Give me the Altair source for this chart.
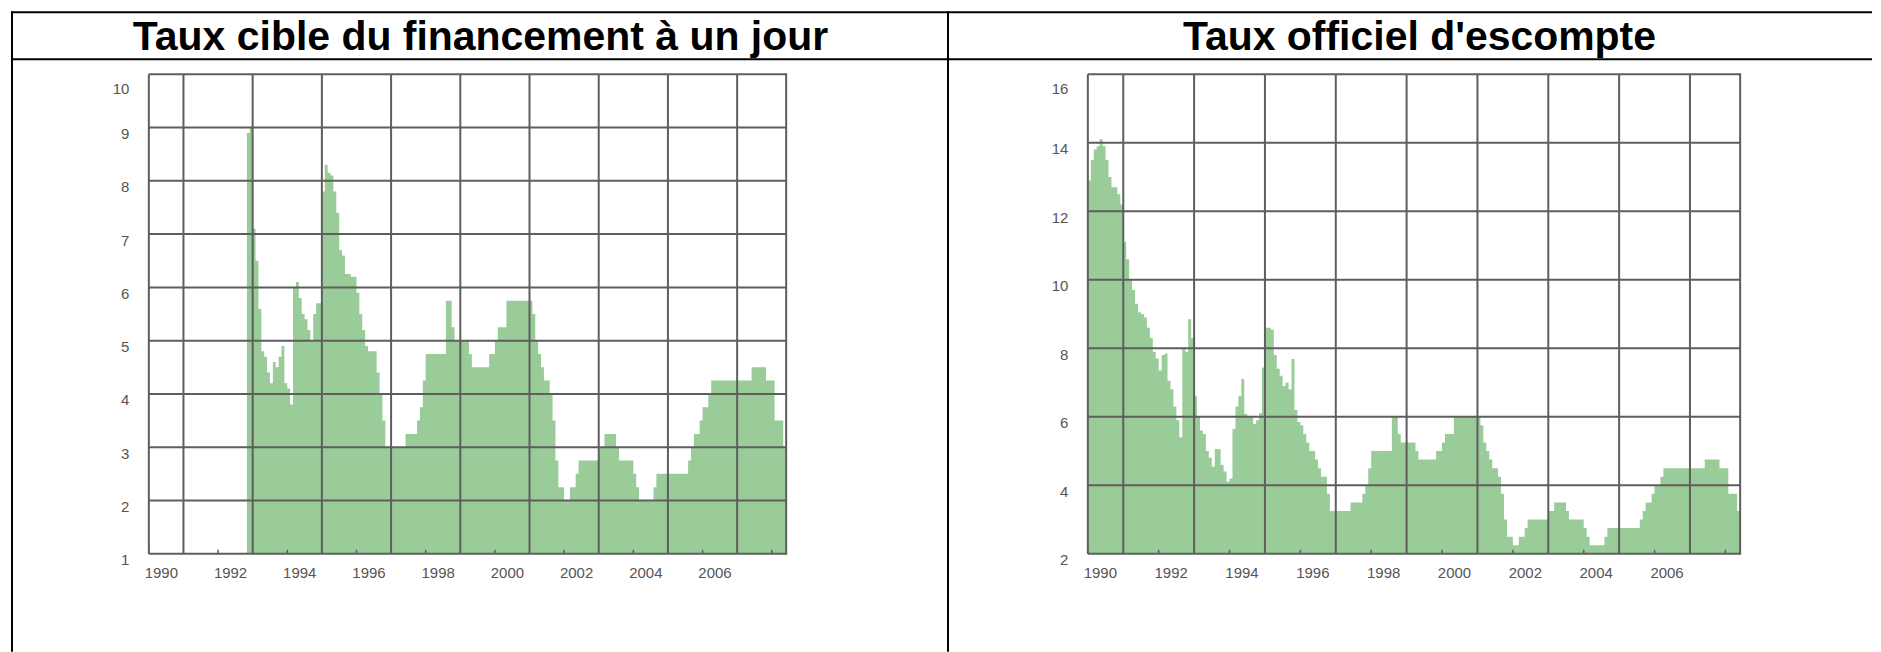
import altair as alt
import pandas as pd

# ---------------- data (monthly) ----------------
END_T = 2008 + 5 / 12  # right edge of the time axis (end of May 2008)

# Taux cible du financement à un jour : Nov 1992 .. May 2008
overnight_start = (1992, 11)
overnight_1992 = [8.9, 9.0]
overnight_1993 = [7.1, 6.5, 5.6, 4.8, 4.7, 4.4, 4.2, 4.6, 4.5, 4.7, 4.9, 4.2]
overnight_1994 = [4.1, 3.8, 6.0, 6.1, 5.8, 5.5, 5.4, 5.2, 5.0, 5.5, 5.7, 5.7]
overnight_1995 = [7.8, 8.3, 8.15, 8.1, 7.8, 7.4, 6.7, 6.6, 6.25, 6.25, 6.2, 6.2]
overnight_1996 = [5.9, 5.5, 5.2, 4.9, 4.8, 4.8, 4.8, 4.4, 4.0, 3.5, 3.0, 3.0]
overnight_1997 = [3.0, 3.0, 3.0, 3.0, 3.0, 3.25, 3.25, 3.25, 3.25, 3.5, 3.75, 4.25]
overnight_1998 = [4.75, 4.75, 4.75, 4.75, 4.75, 4.75, 4.75, 5.75, 5.75, 5.25, 5.0, 5.0]
overnight_1999 = [5.0, 5.0, 5.0, 4.75, 4.5, 4.5, 4.5, 4.5, 4.5, 4.5, 4.75, 4.75]
overnight_2000 = [5.0, 5.25, 5.25, 5.25, 5.75, 5.75, 5.75, 5.75, 5.75, 5.75, 5.75, 5.75]
overnight_2001 = [5.75, 5.5, 5.0, 4.75, 4.5, 4.25, 4.25, 4.0, 3.5, 2.75, 2.25, 2.25]
overnight_2002 = [2.0, 2.0, 2.25, 2.25, 2.5, 2.75, 2.75, 2.75, 2.75, 2.75, 2.75, 2.75]
overnight_2003 = [3.0, 3.0, 3.25, 3.25, 3.25, 3.25, 3.0, 2.75, 2.75, 2.75, 2.75, 2.75]
overnight_2004 = [2.5, 2.25, 2.0, 2.0, 2.0, 2.0, 2.0, 2.25, 2.5, 2.5, 2.5, 2.5]
overnight_2005 = [2.5, 2.5, 2.5, 2.5, 2.5, 2.5, 2.5, 2.75, 3.0, 3.25, 3.25, 3.5]
overnight_2006 = [3.75, 3.75, 4.0, 4.25, 4.25, 4.25, 4.25, 4.25, 4.25, 4.25, 4.25, 4.25]
overnight_2007 = [4.25, 4.25, 4.25, 4.25, 4.25, 4.5, 4.5, 4.5, 4.5, 4.5, 4.25, 4.25]
overnight_2008 = [4.25, 3.5, 3.5, 3.5, 3.0]

# Taux officiel d'escompte : Jan 1990 .. May 2008
bank_start = (1990, 1)
bank_1990 = [12.9, 13.5, 13.8, 13.9, 14.1, 13.9, 13.5, 13.0, 12.7, 12.7, 12.5, 12.2]
bank_1991 = [11.1, 10.6, 10.0, 9.7, 9.3, 9.05, 9.0, 8.9, 8.6, 8.3, 7.9, 7.7]
bank_1992 = [7.35, 7.8, 7.85, 7.05, 6.8, 6.3, 5.9, 5.4, 8.0, 7.9, 8.85, 8.3]
bank_1993 = [6.6, 6.0, 5.6, 5.5, 5.0, 4.8, 4.55, 5.06, 5.05, 4.6, 4.4, 4.1]
bank_1994 = [4.2, 5.64, 6.3, 6.6, 7.1, 6.08, 6.0, 6.0, 5.79, 5.9, 6.1, 7.44]
bank_1995 = [8.6, 8.6, 8.55, 7.8, 7.4, 7.2, 6.9, 7.0, 6.8, 7.69, 6.2, 5.85]
bank_1996 = [5.75, 5.5, 5.25, 5.0, 5.0, 4.75, 4.5, 4.25, 4.25, 3.75, 3.25, 3.25]
bank_1997 = [3.25, 3.25, 3.25, 3.25, 3.25, 3.5, 3.5, 3.5, 3.5, 3.75, 4.0, 4.5]
bank_1998 = [5.0, 5.0, 5.0, 5.0, 5.0, 5.0, 5.0, 6.0, 6.0, 5.5, 5.25, 5.25]
bank_1999 = [5.25, 5.25, 5.25, 5.0, 4.75, 4.75, 4.75, 4.75, 4.75, 4.75, 5.0, 5.0]
bank_2000 = [5.25, 5.5, 5.5, 5.5, 6.0, 6.0, 6.0, 6.0, 6.0, 6.0, 6.0, 6.0]
bank_2001 = [6.0, 5.75, 5.25, 5.0, 4.75, 4.5, 4.5, 4.25, 3.75, 3.0, 2.5, 2.5]
bank_2002 = [2.25, 2.25, 2.5, 2.5, 2.75, 3.0, 3.0, 3.0, 3.0, 3.0, 3.0, 3.0]
bank_2003 = [3.25, 3.25, 3.5, 3.5, 3.5, 3.5, 3.25, 3.0, 3.0, 3.0, 3.0, 3.0]
bank_2004 = [2.75, 2.5, 2.25, 2.25, 2.25, 2.25, 2.25, 2.5, 2.75, 2.75, 2.75, 2.75]
bank_2005 = [2.75, 2.75, 2.75, 2.75, 2.75, 2.75, 2.75, 3.0, 3.25, 3.5, 3.5, 3.75]
bank_2006 = [4.0, 4.0, 4.25, 4.5, 4.5, 4.5, 4.5, 4.5, 4.5, 4.5, 4.5, 4.5]
bank_2007 = [4.5, 4.5, 4.5, 4.5, 4.5, 4.75, 4.75, 4.75, 4.75, 4.75, 4.5, 4.5]
bank_2008 = [4.5, 3.75, 3.75, 3.75, 3.25]

left_title = "Taux cible du financement à un jour"
right_title = "Taux officiel d'escompte"

label_years = [1990, 1992, 1994, 1996, 1998, 2000, 2002, 2004, 2006]
tick_years = [1990, 1992, 1994, 1996, 1998, 2000, 2002, 2004, 2006, 2008]
grid_years = [1990, 1991, 1993, 1995, 1997, 1999, 2001, 2003, 2005, 2007]
left_y_ticks = [1, 2, 3, 4, 5, 6, 7, 8, 9, 10]
right_y_ticks = [2, 4, 6, 8, 10, 12, 14, 16]

overnight = (overnight_1992 + overnight_1993 + overnight_1994 + overnight_1995 +
             overnight_1996 + overnight_1997 + overnight_1998 + overnight_1999 +
             overnight_2000 + overnight_2001 + overnight_2002 + overnight_2003 +
             overnight_2004 + overnight_2005 + overnight_2006 + overnight_2007 +
             overnight_2008)
bank = (bank_1990 + bank_1991 + bank_1992 + bank_1993 + bank_1994 + bank_1995 +
        bank_1996 + bank_1997 + bank_1998 + bank_1999 + bank_2000 + bank_2001 +
        bank_2002 + bank_2003 + bank_2004 + bank_2005 + bank_2006 + bank_2007 +
        bank_2008)


def monthly_frame(start, values):
    y0, m0 = start
    rows = []
    for i, v in enumerate(values):
        idx = (m0 - 1) + i
        rows.append({"t": y0 + idx / 12, "v": v})
    rows.append({"t": END_T, "v": values[-1]})
    return pd.DataFrame(rows)


GREEN = "#99cc99"
GRID = "#5e5e5e"
LABEL_FONT = "Liberation Sans"
LABEL_SIZE = 15
LABEL_COLOR = "#555555"
H = 480


def panel(df, ymin, ymax, yticks, width, title):
    xs = alt.Scale(domain=[1990, END_T], nice=False, zero=False)
    ys = alt.Scale(domain=[ymin, ymax], nice=False, zero=False)
    area = alt.Chart(df).mark_area(
        interpolate="step-after", color=GREEN, opacity=1, clip=True
    ).encode(
        x=alt.X("t:Q", scale=xs, title=None,
                axis=alt.Axis(values=label_years, format="d", ticks=False, tickSize=0,
                              domain=False, grid=False, labelPadding=12,
                              labelFlush=False, labelOverlap=False,
                              labelOffset=12, labelFont=LABEL_FONT,
                              labelFontSize=LABEL_SIZE, labelColor=LABEL_COLOR)),
        y=alt.Y("v:Q", scale=ys, title=None,
                axis=alt.Axis(values=yticks, ticks=False, tickSize=0, domain=False,
                              grid=False, labelPadding=20, format="d",
                              labelFlush=False, labelOverlap=False,
                              labelOffset={"condition": {"test": f"datum.value >= {ymax}",
                                                         "value": 14},
                                           "value": 6},
                              labelFont=LABEL_FONT, labelFontSize=LABEL_SIZE,
                              labelColor=LABEL_COLOR)),
        y2=alt.datum(ymin),
    )
    hgrid = alt.Chart(pd.DataFrame({"g": yticks})).mark_rule(
        color=GRID, strokeWidth=2).encode(y=alt.Y("g:Q", scale=ys))
    vgrid = alt.Chart(pd.DataFrame({"g": grid_years})).mark_rule(
        color=GRID, strokeWidth=2).encode(x=alt.X("g:Q", scale=xs))
    right_edge = alt.Chart(pd.DataFrame({"g": [0]})).mark_rule(
        color=GRID, strokeWidth=2).encode(
        x=alt.value(width), y=alt.value(-1), y2=alt.value(H + 1))
    ticks = alt.Chart(pd.DataFrame({"g": tick_years})).mark_rule(
        color=GRID, strokeWidth=1.5).encode(
        x=alt.X("g:Q", scale=xs), y=alt.value(H), y2=alt.value(H - 4))
    ttl = alt.Chart(pd.DataFrame({"s": [title]})).mark_text(
        font="Liberation Sans", fontWeight="bold", fontSize=41, color="black",
        align="center", baseline="alphabetic").encode(
        text="s:N", x=alt.value(332), y=alt.value(-24))
    return alt.layer(area, hgrid, vgrid, right_edge, ticks, ttl).properties(
        width=width, height=H)


left = panel(monthly_frame(overnight_start, overnight), 1, 10, left_y_ticks, 638, left_title)
right = panel(monthly_frame(bank_start, bank), 2, 16, right_y_ticks, 653, right_title)

# table borders (drawn relative to the left panel's plot origin)
frame_df = pd.DataFrame({"k": [0]})
border_v_left = alt.Chart(frame_df).mark_rule(color="black", strokeWidth=2).encode(
    x=alt.value(-137), y=alt.value(-63), y2=alt.value(578))
border_v_mid = alt.Chart(frame_df).mark_rule(color="black", strokeWidth=2).encode(
    x=alt.value(800), y=alt.value(-63), y2=alt.value(578))
border_h_top = alt.Chart(frame_df).mark_rule(color="black", strokeWidth=2).encode(
    x=alt.value(-138), x2=alt.value(1725), y=alt.value(-62))
border_h_sep = alt.Chart(frame_df).mark_rule(color="black", strokeWidth=2).encode(
    x=alt.value(-138), x2=alt.value(1725), y=alt.value(-15))

left_full = alt.layer(left, border_v_left, border_v_mid, border_h_top, border_h_sep)

chart = alt.hconcat(left_full, right, spacing=302, bounds="flush").properties(
    padding={"left": 2, "top": 2, "right": 0, "bottom": 0}
).configure_view(stroke=None)

chart.save("out.html", embed_options={"renderer": "svg", "actions": False})
